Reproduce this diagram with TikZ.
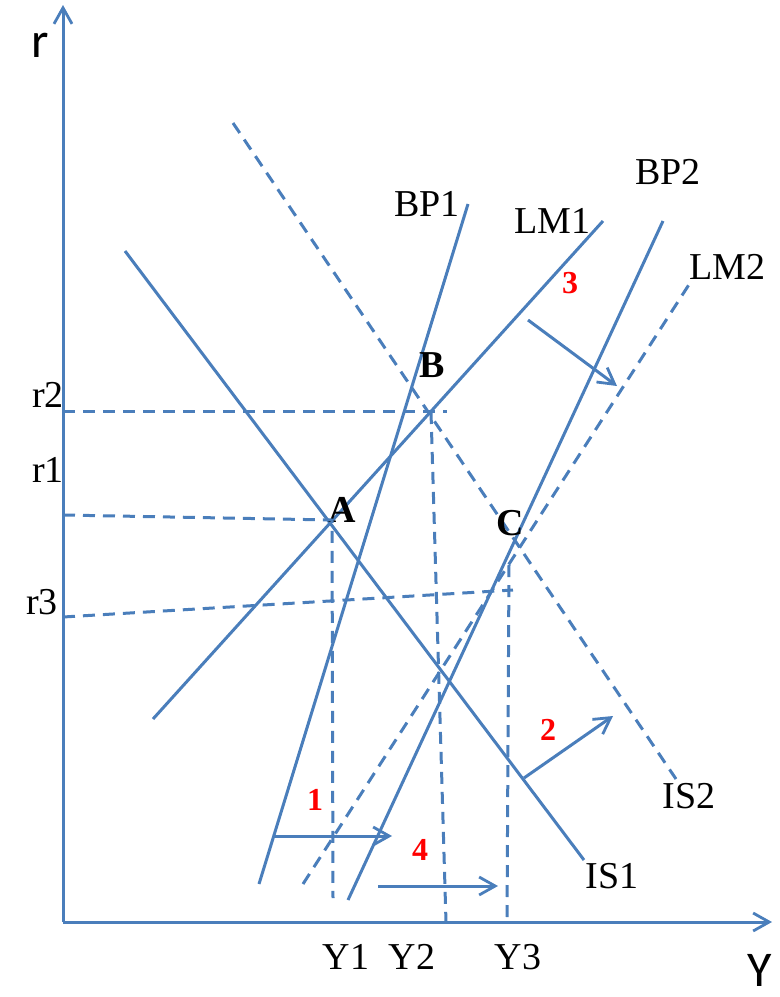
\documentclass[tikz,border=0pt]{standalone}
\usepackage{fontspec}
\setmainfont{Liberation Serif}
\newfontfamily\axisfont{Carlito}
\usetikzlibrary{arrows.meta}
\definecolor{curveblue}{RGB}{74,126,187}
\definecolor{shiftred}{RGB}{255,0,0}
\tikzset{>={Straight Barb[length=8pt,width=9pt,line width=1.4pt]}}
\tikzset{
  curve/.style={draw=curveblue,line width=1.5pt},
  guide/.style={curve,dash pattern=on 6pt off 4pt},
  shiftarrow/.style={curve,->},
  curvelabel/.style={inner sep=0pt,font=\fontsize{19}{19}\selectfont},
  axislabel/.style={inner sep=0pt,font=\axisfont\fontsize{25}{25}\selectfont},
  pointlabel/.style={inner sep=0pt,font=\bfseries\fontsize{19}{19}\selectfont},
  steplabel/.style={inner sep=0pt,text=shiftred,font=\bfseries\fontsize{16}{16}\selectfont},
}

\begin{document}
\begin{tikzpicture}[x=0.5pt,y=-0.5pt]
  \useasboundingbox (0,0) rectangle (780,997);
  % axes
  \coordinate (o) at (63,922);
  \coordinate (rtop) at (63,5);
  \coordinate (yend) at (772,922);
  \draw[shiftarrow] (o) -- (rtop);
  \draw[shiftarrow] (o) -- (yend);
  \node[axislabel] (rlab) at (40,45) {r};
  \node[axislabel] (ylab) at (760,970) {Y};

  % curve ends
  \coordinate (is1a) at (125,251);  \coordinate (is1b) at (584,860);
  \coordinate (is2a) at (233,123);  \coordinate (is2b) at (676,779);
  \coordinate (lm1a) at (153,719);  \coordinate (lm1b) at (603,221);
  \coordinate (lm2a) at (303,884);  \coordinate (lm2b) at (690,283);
  \coordinate (bp1a) at (259,884);  \coordinate (bp1b) at (468,204);
  \coordinate (bp2a) at (348,900);  \coordinate (bp2b) at (663,221);

  \draw[curve] (is1a) -- (is1b);
  \draw[guide] (is2a) -- (is2b);
  \draw[curve] (lm1a) -- (lm1b);
  \draw[guide] (lm2a) -- (lm2b);
  \draw[curve] (bp1a) -- (bp1b);
  \draw[curve] (bp2a) -- (bp2b);

  \node[curvelabel] (is1) at (612,876) {IS1};
  \node[curvelabel] (is2) at (689,796) {IS2};
  \node[curvelabel] (lm1) at (552,221) {LM1};
  \node[curvelabel] (lm2) at (727,267) {LM2};
  \node[curvelabel] (bp1) at (427,204) {BP1};
  \node[curvelabel] (bp2) at (668,172) {BP2};

  % equilibria
  \coordinate (ptA) at (332,520);
  \coordinate (ptB) at (431,412);
  \coordinate (ptC) at (509,565);
  \node[pointlabel] (labA) at (342,510) {A};
  \node[pointlabel] (labB) at (432,365) {B};
  \node[pointlabel] (labC) at (510,523) {C};

  % guide lines to the axes
  \coordinate (r1) at (63,515);  \coordinate (y1) at (333,898);
  \coordinate (r2) at (63,411);  \coordinate (r2end) at (447,411);
  \coordinate (y2) at (446,922);
  \coordinate (r3) at (63,617);  \coordinate (r3end) at (513,590);
  \coordinate (y3) at (507,922);
  \draw[guide] (r1) -- (ptA) -- (y1);
  \draw[guide] (r2) -- (r2end);
  \draw[guide] (ptB) -- (y2);
  \draw[guide] (r3) -- (r3end);
  \draw[guide] (ptC) -- (y3);

  \node[curvelabel] (r1lab) at (48,470) {r1};
  \node[curvelabel] (r2lab) at (48,395) {r2};
  \node[curvelabel] (r3lab) at (42,602) {r3};
  \node[curvelabel] (y1lab) at (346,957) {Y1};
  \node[curvelabel] (y2lab) at (412,957) {Y2};
  \node[curvelabel] (y3lab) at (518,957) {Y3};

  % shifts
  \coordinate (s1a) at (275,836);  \coordinate (s1b) at (392,836);
  \coordinate (s2a) at (524,778);  \coordinate (s2b) at (613,716);
  \coordinate (s3a) at (528,320);  \coordinate (s3b) at (617,386);
  \coordinate (s4a) at (378,886);  \coordinate (s4b) at (498,886);
  \draw[shiftarrow] (s1a) -- (s1b);
  \draw[shiftarrow] (s2a) -- (s2b);
  \draw[shiftarrow] (s3a) -- (s3b);
  \draw[shiftarrow] (s4a) -- (s4b);
  \node[steplabel] (n1) at (315,800) {1};
  \node[steplabel] (n2) at (548,730) {2};
  \node[steplabel] (n3) at (570,283) {3};
  \node[steplabel] (n4) at (420,850) {4};
\end{tikzpicture}
\end{document}
